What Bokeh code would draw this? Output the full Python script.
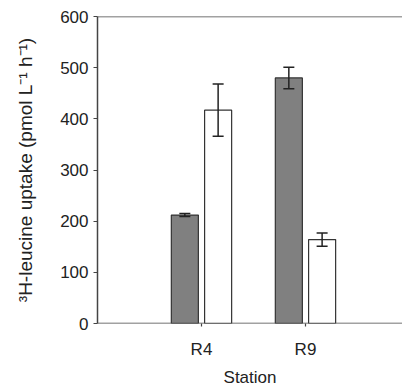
from bokeh.plotting import figure
from bokeh.models import Range1d, FixedTicker, Whisker, ColumnDataSource, TeeHead, Span, Title
from bokeh.embed import file_html
from bokeh.resources import INLINE

stations = ["R4", "R9"]
series_dark = [212, 480]
series_dark_err = [3, 21]
series_white = [417, 164]
series_white_err = [51, 13]
y_ticks = [0, 100, 200, 300, 400, 500, 600]
x_title = "Station"
y_title = "³H-leucine uptake (pmol L⁻¹ h⁻¹)"

pos = [i + 1 for i in range(len(stations))]
off = 0.16
bw = 0.26

p = figure(width=402, height=391, output_backend="svg", toolbar_location=None,
           x_range=Range1d(0, 2.933), y_range=Range1d(0, 600),
           min_border_left=97, min_border_right=0, min_border_top=16, min_border_bottom=68)
p.outline_line_color = None
p.xgrid.visible = False
p.ygrid.visible = False
p.background_fill_color = "white"
p.border_fill_color = "white"

dark = ColumnDataSource(dict(x=[x - off for x in pos], top=series_dark,
                             lo=[v - e for v, e in zip(series_dark, series_dark_err)],
                             hi=[v + e for v, e in zip(series_dark, series_dark_err)]))
white = ColumnDataSource(dict(x=[x + off for x in pos], top=series_white,
                              lo=[v - e for v, e in zip(series_white, series_white_err)],
                              hi=[v + e for v, e in zip(series_white, series_white_err)]))

p.vbar(x="x", top="top", width=bw, bottom=0, source=dark, fill_color="#808080", line_color="#333333", line_width=1.2)
p.vbar(x="x", top="top", width=bw, bottom=0, source=white, fill_color="white", line_color="#333333", line_width=1.2)

for src in (dark, white):
    w = Whisker(base="x", lower="lo", upper="hi", source=src, line_color="#222222", line_width=1.5,
                level="overlay",
                upper_head=TeeHead(size=11, line_color="#222222", line_width=1.5),
                lower_head=TeeHead(size=11, line_color="#222222", line_width=1.5))
    p.add_layout(w)

p.add_layout(Span(location=600, dimension="width", line_color="#444444", line_width=1.5, level="overlay"))
p.add_layout(Span(location=0, dimension="width", line_color="#444444", line_width=1.5, level="overlay"))

font = "Liberation Sans"
p.yaxis.ticker = FixedTicker(ticks=y_ticks)
p.yaxis.minor_tick_line_color = None
p.yaxis.major_tick_out = 4
p.yaxis.major_tick_in = 0
p.yaxis.axis_label = y_title
p.xaxis.ticker = FixedTicker(ticks=pos)
p.xaxis.major_label_overrides = {x: s for x, s in zip(pos, stations)}
p.xaxis.minor_tick_line_color = None
p.xaxis.major_tick_out = 3
p.xaxis.major_tick_in = 0
p.xaxis.major_label_standoff = 13
for ax in (p.xaxis, p.yaxis):
    ax.axis_line_color = "#444444"
    ax.axis_line_width = 1.5
    ax.major_tick_line_color = "#444444"
    ax.major_tick_line_width = 1.2
    ax.major_label_text_font = font
    ax.major_label_text_font_size = "17px"
    ax.major_label_text_color = "#222222"
    ax.axis_label_text_font = font
    ax.axis_label_text_font_size = "17px"
    ax.axis_label_text_font_style = "normal"
    ax.axis_label_text_color = "#222222"
p.xaxis.axis_line_color = None
p.yaxis.axis_label_text_font_size = "19px"
p.yaxis.major_label_standoff = 5
p.yaxis.axis_label_standoff = 21

p.add_layout(Title(text=x_title, align="center", standoff=9,
                   text_font=font, text_font_size="17px", text_font_style="normal",
                   text_color="#222222"), "below")

open("out.html", "w").write(file_html(p, INLINE))
